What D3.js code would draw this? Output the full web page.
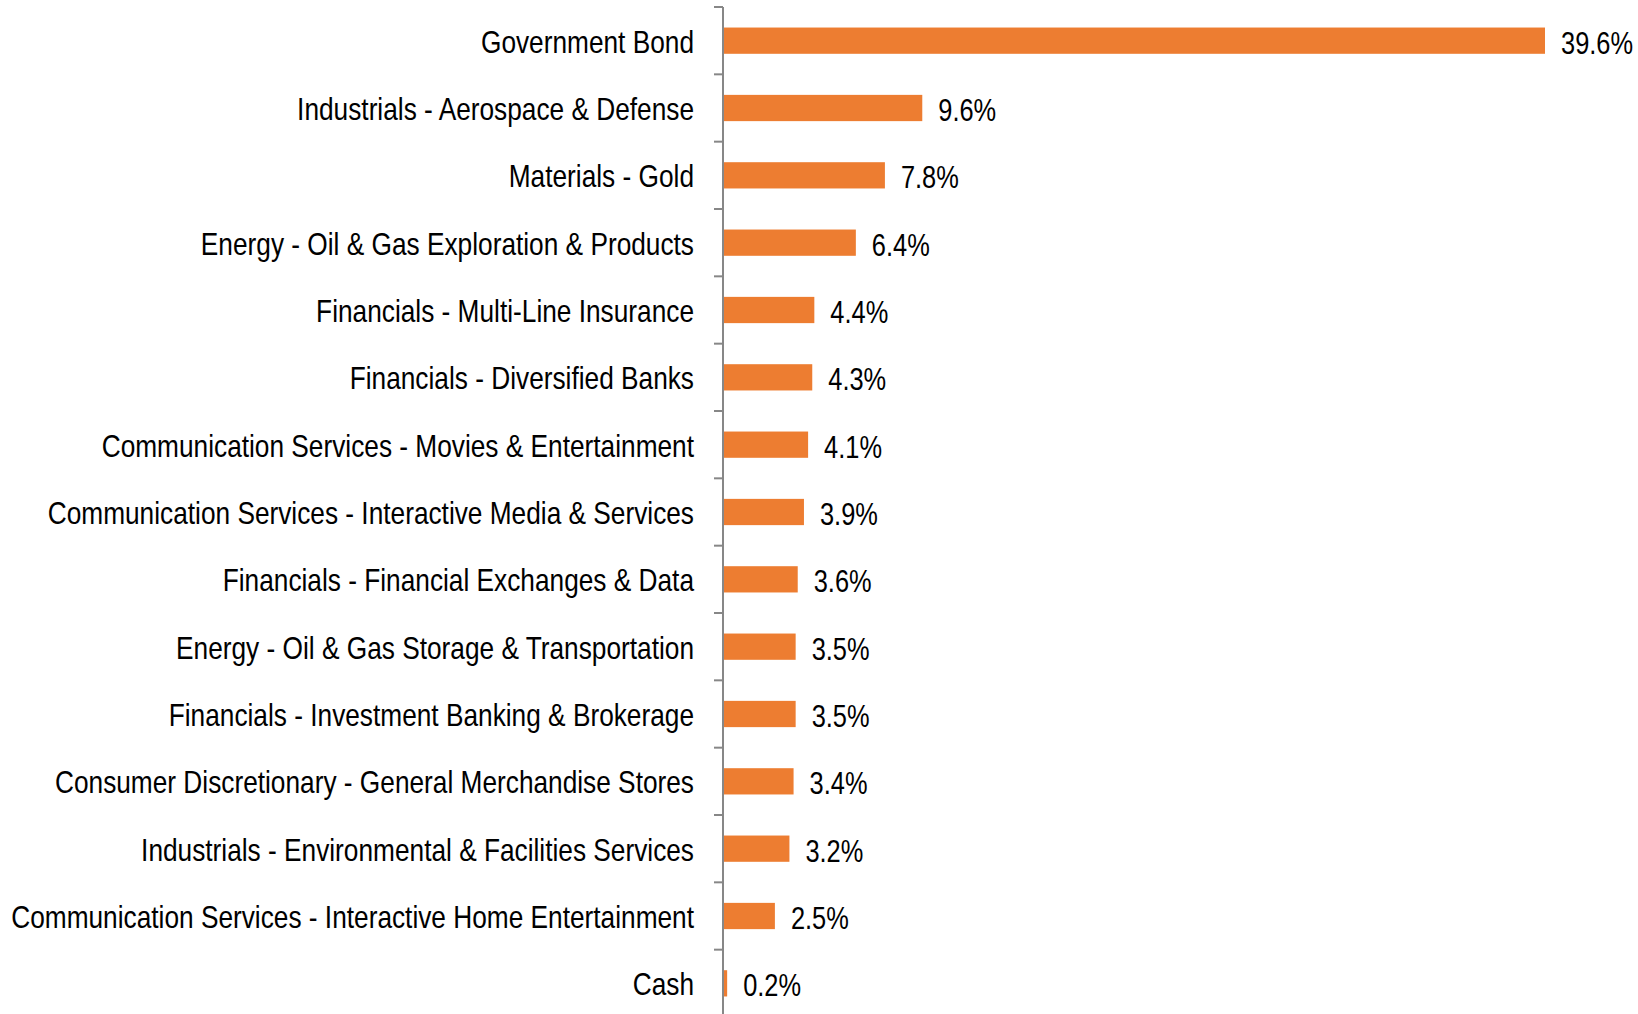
<!DOCTYPE html>
<html>
<head>
<meta charset="utf-8">
<script src="https://cdn.jsdelivr.net/npm/d3@7"></script>
<style>
  body { margin: 0; background: #fff; }
  text { font-family: "Liberation Sans", Arial, sans-serif; }
</style>
</head>
<body>
<script>
var width = 1638,
    height = 1014;

var categories = [
  "Government Bond",
  "Industrials - Aerospace & Defense",
  "Materials - Gold",
  "Energy - Oil & Gas Exploration & Products",
  "Financials - Multi-Line Insurance",
  "Financials - Diversified Banks",
  "Communication Services - Movies & Entertainment",
  "Communication Services - Interactive Media & Services",
  "Financials - Financial Exchanges & Data",
  "Energy - Oil & Gas Storage & Transportation",
  "Financials - Investment Banking & Brokerage",
  "Consumer Discretionary - General Merchandise Stores",
  "Industrials - Environmental & Facilities Services",
  "Communication Services - Interactive Home Entertainment",
  "Cash"
];
var values = [39.6, 9.6, 7.8, 6.4, 4.4, 4.3, 4.1, 3.9, 3.6, 3.5, 3.5, 3.4, 3.2, 2.5, 0.2];

var axisX = 723;
// squeeze Liberation Sans to look like Arial Narrow
var catNarrow = 0.847,
    valNarrow = 0.82;

var svg = d3.select("body").append("svg")
    .attr("width", width)
    .attr("height", height);

var x = d3.scaleLinear()
    .domain([0, 39.6])
    .range([axisX, 1545]);

var y = d3.scaleBand()
    .domain(categories)
    .range([7, 1017])
    .paddingInner(0.61)
    .paddingOuter(0.305);

var rows = categories.map(function(c, i) { return {name: c, value: values[i]}; });

// bars
svg.selectAll("rect.bar")
    .data(rows)
    .enter().append("rect")
    .attr("class", "bar")
    .attr("x", x(0))
    .attr("y", function(d) { return y(d.name); })
    .attr("width", function(d) { return x(d.value) - x(0); })
    .attr("height", y.bandwidth())
    .attr("fill", "#ed7d31");

// value labels
svg.selectAll("text.val")
    .data(rows)
    .enter().append("text")
    .attr("class", "val")
    .attr("transform", function(d) {
        return "translate(" + (x(d.value) + 16) + "," + (y(d.name) + y.bandwidth() / 2 + 2) + ") scale(" + valNarrow + ",1)";
    })
    .attr("dy", "0.35em")
    .attr("font-size", 31)
    .attr("fill", "#000")
    .text(function(d) { return d.value.toFixed(1) + "%"; });

// category labels
svg.selectAll("text.cat")
    .data(rows)
    .enter().append("text")
    .attr("class", "cat")
    .attr("transform", function(d) {
        return "translate(" + (axisX - 29) + "," + (y(d.name) + y.bandwidth() / 2 + 1) + ") scale(" + catNarrow + ",1)";
    })
    .attr("dy", "0.35em")
    .attr("text-anchor", "end")
    .attr("font-size", 31)
    .attr("fill", "#000")
    .text(function(d) { return d.name; });

// axis line with ticks at band boundaries
var off = y.step() * y.paddingInner() / 2;
var bounds = categories.map(function(c) { return y(c) - off; });
var g = svg.append("g").attr("stroke", "#878787").attr("stroke-width", 2);
g.append("line")
    .attr("x1", axisX).attr("x2", axisX)
    .attr("y1", bounds[0]).attr("y2", height);
g.selectAll("line.tick")
    .data(bounds)
    .enter().append("line")
    .attr("class", "tick")
    .attr("x1", axisX - 9).attr("x2", axisX)
    .attr("y1", function(d) { return d; })
    .attr("y2", function(d) { return d; });
</script>
</body>
</html>
